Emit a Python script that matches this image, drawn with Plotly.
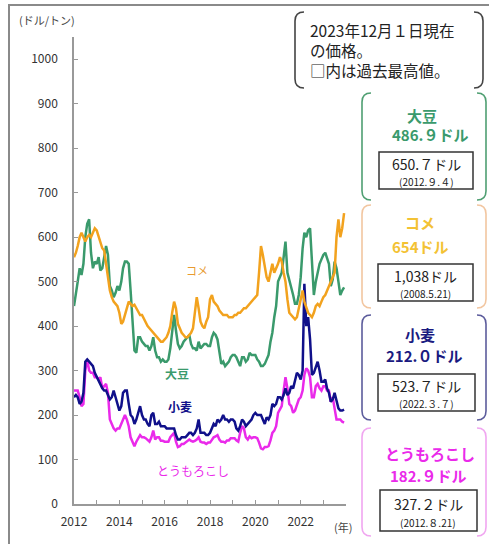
import plotly.graph_objects as go
import pandas as pd

# ---------------- data (US$/t, monthly readings) ----------------
dates = pd.date_range("2012-01-01", "2023-12-01", freq="MS")

soybean = [
    445, 470, 500, 530, 515, 540, 600, 630, 640, 565, 530, 545,   # 2012
    540, 555, 525, 530, 560, 580, 560, 490, 480, 465, 475, 490,   # 2013
    480, 500, 530, 545, 545, 540, 480, 420, 345, 340, 375, 375,   # 2014
    365, 360, 355, 355, 345, 355, 375, 345, 330, 330, 320, 325,   # 2015
    320, 320, 325, 350, 385, 425, 390, 360, 350, 355, 365, 370,   # 2016
    375, 380, 360, 350, 350, 345, 365, 350, 355, 360, 360, 355,   # 2017
    355, 375, 385, 380, 370, 345, 315, 320, 310, 315, 320, 330,   # 2018
    335, 335, 330, 320, 310, 330, 330, 320, 325, 340, 335, 335,   # 2019
    335, 325, 320, 310, 310, 315, 325, 335, 365, 385, 420, 445,   # 2020
    500, 510, 520, 555, 590, 520, 505, 490, 470, 450, 450, 470,   # 2021
    510, 575, 610, 600, 615, 620, 540, 470, 500, 520, 540, 550,   # 2022
    560, 565, 550, 540, 490, 505, 545, 530, 500, 470, 480, 486.9, # 2023
]
rice = [
    555, 565, 580, 600, 610, 600, 590, 600, 605, 600, 610, 620,
    615, 600, 590, 575, 570, 540, 510, 480, 465, 455, 450, 445,
    430, 405, 410, 425, 440, 455, 450, 445, 448, 440, 430, 425,
    425, 415, 410, 400, 395, 390, 385, 380, 375, 370, 365, 365,
    370, 375, 385, 400, 430, 455, 440, 405, 395, 385, 380, 375,
    375, 380, 385, 395, 430, 465, 440, 410, 400, 395, 410, 420,
    460, 470, 455, 450, 445, 435, 430, 425, 425, 425, 420, 420,
    420, 425, 425, 430, 430, 435, 440, 440, 445, 450, 455, 460,
    465, 470, 520, 580, 560, 530, 510, 500, 520, 540, 520, 530,
    540, 555, 545, 520, 500, 460, 430, 425, 420, 415, 420, 440,
    460, 480, 455, 440, 430, 425, 420, 430, 445, 450, 445, 455,
    465, 470, 480, 490, 500, 510, 520, 600, 640, 600, 620, 654,
]
wheat = [
    240, 245, 240, 225, 230, 250, 320, 325, 320, 315, 310, 295,
    285, 275, 270, 260, 255, 255, 245, 235, 240, 255, 240, 225,
    210, 220, 250, 255, 255, 225, 200, 195, 180, 190, 205, 220,
    200, 190, 190, 180, 175, 200, 205, 180, 180, 185, 175, 175,
    175, 170, 170, 170, 170, 170, 155, 145, 145, 150, 150, 150,
    155, 160, 160, 155, 160, 170, 190, 160, 160, 160, 155, 155,
    160, 170, 180, 175, 190, 185, 190, 200, 190, 190, 185, 190,
    190, 185, 170, 165, 175, 190, 185, 175, 180, 185, 190, 200,
    205, 200, 200, 200, 190, 180, 195, 190, 200, 225, 220, 225,
    240, 240, 235, 245, 260, 245, 250, 265, 260, 275, 295, 290,
    280, 300, 495, 400, 420, 370, 290, 295, 310, 320, 300, 275,
    275, 280, 260, 250, 230, 235, 250, 230, 215, 210, 210, 212,
]
corn = [
    255, 255, 255, 240, 220, 225, 300, 325, 300, 295, 295, 285,
    285, 280, 285, 260, 265, 270, 250, 190, 180, 170, 165, 170,
    170, 180, 190, 200, 190, 175, 150, 140, 130, 140, 148, 155,
    150, 150, 148, 143, 140, 150, 165, 145, 150, 150, 142, 142,
    140, 140, 140, 150, 155, 160, 140, 128, 130, 135, 135, 138,
    140, 145, 142, 140, 142, 145, 150, 140, 138, 138, 135, 138,
    138, 145, 150, 152, 155, 145, 140, 140, 138, 143, 143, 148,
    148, 148, 143, 140, 160, 175, 170, 150, 145, 152, 148, 150,
    150, 148, 138, 125, 123, 128, 128, 130, 143, 160, 165, 175,
    205, 215, 220, 255, 285, 260, 225, 220, 205, 210, 225, 235,
    240, 255, 290, 305, 300, 285, 240, 240, 265, 270, 260, 255,
    265, 265, 255, 255, 230, 240, 215, 190, 190, 190, 185, 182.9,
]

year_ticks = [f"{y}-01-01" for y in range(2012, 2025)]
year_labels = [str(y) if y % 2 == 0 and y < 2024 else "" for y in range(2012, 2025)]
y_ticks = list(range(0, 1001, 100))

# ---------------- styling ----------------
FONT = "Noto Sans CJK JP"
C_SOY, C_RICE, C_WHEAT, C_CORN = "#3a9a6c", "#f2a21e", "#10108a", "#ea2aea"

W, H = 489, 544
L, R, T, B = 74, 346, 37, 504


def X(p):
    return (p - L) / (R - L)


def Y(p):
    return (B - p) / (B - T)


fig = go.Figure()
for name, vals, col in [("とうもろこし", corn, C_CORN), ("小麦", wheat, C_WHEAT),
                        ("大豆", soybean, C_SOY), ("コメ", rice, C_RICE)]:
    fig.add_trace(go.Scatter(x=dates, y=vals, mode="lines", name=name,
                             line=dict(color=col, width=2.5), showlegend=False))

shapes = []
# outer frame
shapes.append(dict(type="rect", xref="paper", yref="paper", x0=X(9), x1=X(620),
                   y0=Y(5), y1=Y(700), line=dict(color="#8a8a8a", width=2)))


def bracket(x0, y0, x1, y1, color, width=1.6, w=9, r=9):
    lp = (f"M {X(x0 + w)},{Y(y0)} Q {X(x0)},{Y(y0)} {X(x0)},{Y(y0 + r)} "
          f"L {X(x0)},{Y(y1 - r)} Q {X(x0)},{Y(y1)} {X(x0 + w)},{Y(y1)}")
    rp = (f"M {X(x1 - w)},{Y(y0)} Q {X(x1)},{Y(y0)} {X(x1)},{Y(y0 + r)} "
          f"L {X(x1)},{Y(y1 - r)} Q {X(x1)},{Y(y1)} {X(x1 - w)},{Y(y1)}")
    for p in (lp, rp):
        shapes.append(dict(type="path", xref="paper", yref="paper", path=p,
                           line=dict(color=color, width=width)))


def box(x0, y0, x1, y1):
    shapes.append(dict(type="rect", xref="paper", yref="paper", x0=X(x0), x1=X(x1),
                       y0=Y(y0), y1=Y(y1), line=dict(color="#333333", width=1.5)))


bracket(295, 12, 483, 88, "#444444")
bracket(362, 93, 486, 200, "#4f9f72")
bracket(362, 205, 486, 308, "#f2c6a0")
bracket(362, 315, 486, 420, "#5c5c9c")
bracket(362, 428, 486, 536, "#f0a6f0")
box(379, 152, 473, 189)
box(378, 264, 473, 301)
box(378, 374, 475, 411)
box(380, 490, 477, 531)

ann = []


def txt(x, y, s, size=12, color="#222222", bold=False, anchor="center", align="center"):
    ann.append(dict(xref="paper", yref="paper", x=X(x), y=Y(y), text=(f"<b>{s}</b>" if bold else s),
                    showarrow=False, xanchor=anchor, yanchor="middle", align=align,
                    font=dict(family=FONT, size=size, color=color)))


txt(17, 20, "(ドル/トン)", 11, "#444444", anchor="left")
txt(343, 527, "(年)", 11, "#444444")
txt(308, 50, "2023年12月１日現在<br>の価格。<br>□内は過去最高値。", 15.5, "#222222",
    anchor="left", align="left")

txt(422, 115, "大豆", 15, C_SOY, True)
txt(430, 134, "486.９ドル", 15, C_SOY, True)
txt(426, 164, "650.７ドル", 14)
txt(426, 181, "(2012.９.４)", 10)

txt(420, 222, "コメ", 15, "#f3c234", True)
txt(420, 246, "654ドル", 15, "#f3c234", True)
txt(425, 276, "1,038ドル", 14)
txt(425, 293, "(2008.5.21)", 10)

txt(420, 335, "小麦", 15, "#1a1a80", True)
txt(424, 355, "212.０ドル", 15, "#1a1a80", True)
txt(426, 386, "523.７ドル", 14)
txt(426, 403, "(2022.３.７)", 10)

txt(430, 453, "とうもろこし", 15, C_CORN, True)
txt(428, 475, "182.９ドル", 15, C_CORN, True)
txt(428, 504, "327.２ドル", 14)
txt(428, 522, "(2012.８.21)", 10)

txt(197, 270, "コメ", 11, "#e89a30")
txt(177, 373, "大豆", 12, C_SOY, True)
txt(180, 406, "小麦", 12, C_WHEAT, True)
txt(193, 470, "とうもろこし", 12, C_CORN)

fig.update_layout(
    width=W, height=H,
    margin=dict(l=L, r=W - R, t=T, b=H - B),
    paper_bgcolor="white", plot_bgcolor="white",
    shapes=shapes, annotations=ann,
    font=dict(family=FONT, size=12, color="#333333"),
    xaxis=dict(type="date", range=["2012-01-01", "2024-01-01"],
               tickvals=year_ticks, ticktext=year_labels,
               showgrid=False, zeroline=False, showline=True,
               linecolor="#999999", linewidth=1.5,
               ticks="inside", ticklen=4, tickcolor="#999999",
               ticklabelstandoff=6, tickfont=dict(size=12, color="#333333")),
    yaxis=dict(range=[0, 1050], tickvals=y_ticks,
               showgrid=False, zeroline=False, showline=True,
               linecolor="#999999", linewidth=1.5,
               ticks="inside", ticklen=4, tickcolor="#999999",
               ticklabelstandoff=12, tickfont=dict(size=12, color="#333333")),
)

fig.write_html("out.html")
